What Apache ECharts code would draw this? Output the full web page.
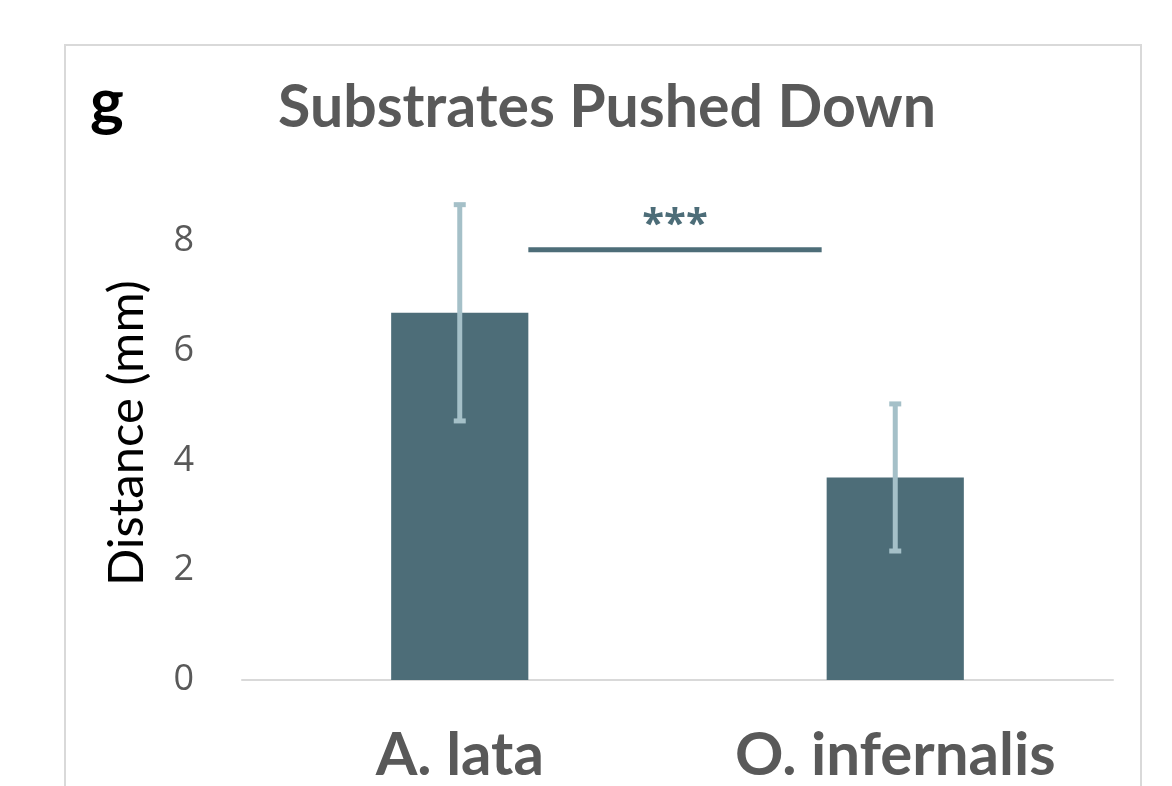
<!DOCTYPE html>
<html>
<head>
<meta charset="utf-8">
<script src="https://cdn.jsdelivr.net/npm/echarts@6/dist/echarts.min.js"></script>
<style>
  html, body { margin: 0; padding: 0; background: #fff; }
  #chart { width: 1172px; height: 786px; }
</style>
</head>
<body>
<div id="chart"></div>
<script>
// data
var categories = ['A. lata', 'O. infernalis'];
var means = [6.69, 3.69];
var errors = [1.97, 1.34];
var sigLevel = 7.84;      // height of the significance bar
var sigLabel = '***';
var yTicks = [0, 2, 4, 6, 8];

var barColor = '#4d6d78';
var errColor = '#a5c0c8';
var textGrey = '#595959';
var barWidthPct = 0.315;

var chart = echarts.init(document.getElementById('chart'));

var errData = means.map(function (m, i) {
  return [i, m - errors[i], m + errors[i]];
});

var option = {
  animation: false,
  backgroundColor: '#fff',
  graphic: [{
    type: 'rect',
    shape: { x: 65, y: 45, width: 1076, height: 800 },
    style: { fill: 'none', stroke: '#d9d9d9', lineWidth: 2 },
    z: -1
  }],
  title: [{
    text: 'g',
    left: 85,
    top: 66,
    textStyle: { fontFamily: 'Lato', fontWeight: 'bold', fontSize: 64, color: '#000' }
  }, {
    text: 'Substrates Pushed Down',
    left: 602,
    textAlign: 'center',
    top: 73,
    textStyle: { fontFamily: 'Lato', fontWeight: 'bold', fontSize: 59, color: textGrey }
  }],
  grid: { left: 242, right: 59, top: 186, bottom: 105 },
  xAxis: {
    type: 'category',
    data: categories,
    axisLine: { lineStyle: { color: '#d9d9d9', width: 2 } },
    axisTick: { show: false },
    axisLabel: {
      margin: 46,
      fontFamily: 'Lato',
      fontWeight: 'bold',
      fontSize: 60,
      color: textGrey
    }
  },
  yAxis: {
    type: 'value',
    min: 0,
    max: 9,
    interval: 2,
    name: 'Distance (mm)',
    nameLocation: 'middle',
    nameGap: 90,
    nameTextStyle: { fontFamily: 'Lato', fontSize: 49, color: '#000' },
    axisLine: { show: false },
    axisTick: { show: false },
    splitLine: { show: false },
    axisLabel: {
      margin: 48,
      fontFamily: 'Open Sans',
      fontSize: 36,
      color: textGrey,
      formatter: function (v) { return yTicks.indexOf(v) >= 0 ? String(v) : ''; }
    }
  },
  series: [{
    type: 'bar',
    data: means,
    barWidth: (barWidthPct * 100) + '%',
    itemStyle: { color: barColor },
    z: 2
  }, {
    type: 'custom',
    data: errData,
    z: 3,
    renderItem: function (params, api) {
      var x = api.value(0);
      var lo = api.coord([x, api.value(1)]);
      var hi = api.coord([x, api.value(2)]);
      var capW = 12, capH = 5;
      return {
        type: 'group',
        children: [{
          type: 'line',
          shape: { x1: lo[0], y1: lo[1], x2: hi[0], y2: hi[1] },
          style: { stroke: errColor, lineWidth: 5 }
        }, {
          type: 'rect',
          shape: { x: hi[0] - capW / 2, y: hi[1] - capH / 2, width: capW, height: capH },
          style: { fill: errColor }
        }, {
          type: 'rect',
          shape: { x: lo[0] - capW / 2, y: lo[1] - capH / 2, width: capW, height: capH },
          style: { fill: errColor }
        }]
      };
    }
  }, {
    type: 'custom',
    data: [[0, 1, sigLevel]],
    z: 4,
    renderItem: function (params, api) {
      var a = api.coord([api.value(0), api.value(2)]);
      var b = api.coord([api.value(1), api.value(2)]);
      var catW = api.size([1, 0])[0];
      var half = catW * barWidthPct / 2;
      var x1 = a[0] + half;
      var x2 = b[0] - half - 5;
      return {
        type: 'group',
        children: [{
          type: 'line',
          shape: { x1: x1, y1: a[1], x2: x2, y2: a[1] },
          style: { stroke: barColor, lineWidth: 5 }
        }, {
          type: 'text',
          style: {
            x: (x1 + x2) / 2,
            y: a[1] - 4,
            text: sigLabel,
            align: 'center',
            verticalAlign: 'bottom',
            fontFamily: 'Open Sans',
            fontWeight: 'bold',
            fontSize: 40,
            fill: barColor
          }
        }]
      };
    }
  }]
};

chart.setOption(option);
</script>
</body>
</html>
